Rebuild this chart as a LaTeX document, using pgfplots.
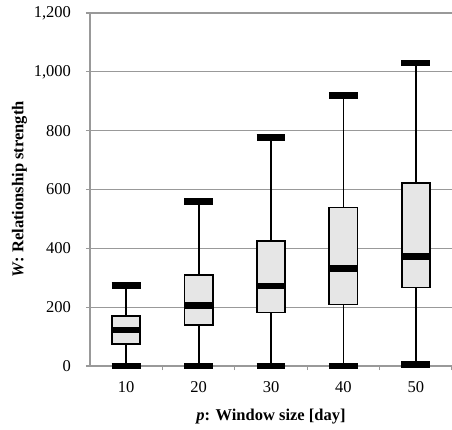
\documentclass[border=0pt]{standalone}
\usepackage{fontspec}
\setmainfont{Liberation Serif}
\usepackage{pgfplots}
\usepgfplotslibrary{statistics}
\pgfplotsset{compat=1.18}
\definecolor{gridgray}{HTML}{999999}
\definecolor{boxfill}{HTML}{E6E6E6}
\begin{document}
\begin{tikzpicture}
\begin{axis}[
  scale only axis, width=362pt, height=353pt,
  xmin=5, xmax=55, ymin=0, ymax=1200,
  clip=false,
  axis lines*=left,
  axis line style={gridgray, line width=1.3pt},
  xtick={10,20,30,40,50},
  minor xtick={15,25,35,45,55},
  major x tick style={draw=none},
  minor x tick style={gridgray, line width=1.3pt},
  minor tick length=4pt,
  ytick={0,200,...,1200},
  major tick length=4pt,
  y tick style={gridgray, line width=1.3pt},
  tick align=outside,
  ymajorgrids,
  grid style={gridgray, line width=1.3pt},
  /pgf/number format/assume math mode=true,
  /pgf/number format/1000 sep={,},
  scaled y ticks=false,
  tick label style={font=\fontsize{16.5}{19}\selectfont, black},
  yticklabel style={xshift=-11.5pt},
  xticklabel style={yshift=-7.5pt},
  label style={font=\bfseries\fontsize{16.5}{19}\selectfont},
  xlabel={\textit{p}: Window size [day]},
  ylabel={\textit{W}: Relationship strength},
  ylabel style={yshift=0pt},
  xlabel style={yshift=-10.5pt},
  boxplot/draw direction=y,
  boxplot/box extend=3.9,
  boxplot/whisker extend=4.0,
  boxplot/every box/.style={draw=black, line width=1.8pt, fill=boxfill},
  boxplot/every median/.style={draw=black, line width=6.5pt},
  boxplot/draw/lower whisker/.code={%
    \draw[black, line width=1.8pt] (boxplot cs:\pgfplotsboxplotvalue{lower quartile}) -- (boxplot cs:\pgfplotsboxplotvalue{lower whisker});
    \draw[black, line width=6.5pt] (boxplot whisker cs:\pgfplotsboxplotvalue{lower whisker},0) -- (boxplot whisker cs:\pgfplotsboxplotvalue{lower whisker},1);
  },
  boxplot/draw/upper whisker/.code={%
    \draw[black, line width=1.8pt] (boxplot cs:\pgfplotsboxplotvalue{upper quartile}) -- (boxplot cs:\pgfplotsboxplotvalue{upper whisker});
    \draw[black, line width=6.5pt] (boxplot whisker cs:\pgfplotsboxplotvalue{upper whisker},0) -- (boxplot whisker cs:\pgfplotsboxplotvalue{upper whisker},1);
  },
]
\addplot[boxplot prepared={draw position=10, lower whisker=0, lower quartile=74, median=122, upper quartile=170, upper whisker=273}] coordinates {};
\addplot[boxplot prepared={draw position=20, lower whisker=0, lower quartile=139, median=205, upper quartile=308, upper whisker=560}] coordinates {};
\addplot[boxplot prepared={draw position=30, lower whisker=0, lower quartile=182, median=272, upper quartile=425, upper whisker=776}] coordinates {};
\addplot[boxplot prepared={draw position=40, lower whisker=0, lower quartile=209, median=332, upper quartile=539, upper whisker=920}] coordinates {};
\addplot[boxplot prepared={draw position=50, lower whisker=5, lower quartile=267, median=373, upper quartile=621, upper whisker=1030}] coordinates {};
\end{axis}
\pgfresetboundingbox
\path ([xshift=-90pt,yshift=-63pt]current axis.south west) rectangle ([yshift=13pt]current axis.north east);
\end{tikzpicture}
\end{document}
